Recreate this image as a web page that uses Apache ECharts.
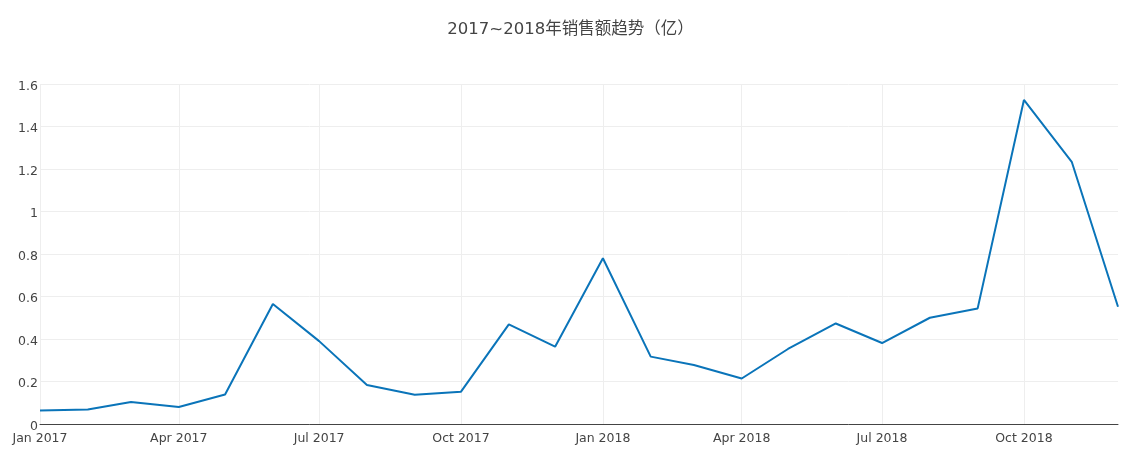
<!DOCTYPE html>
<html><head><meta charset="utf-8">
<script src="https://cdn.jsdelivr.net/npm/echarts@6/dist/echarts.min.js"></script>
<style>html,body{margin:0;padding:0;background:#fff}#c{width:1141px;height:454px}</style>
</head><body><div id="c"></div>
<script>
const months = ['2017-01-01','2017-02-01','2017-03-01','2017-04-01','2017-05-01','2017-06-01','2017-07-01','2017-08-01','2017-09-01','2017-10-01','2017-11-01','2017-12-01',
'2018-01-01','2018-02-01','2018-03-01','2018-04-01','2018-05-01','2018-06-01','2018-07-01','2018-08-01','2018-09-01','2018-10-01','2018-11-01','2018-12-01'];
const sales = [0.064,0.068,0.104,0.080,0.139,0.565,0.390,0.184,0.138,0.152,0.469,0.364,
0.780,0.317,0.278,0.214,0.353,0.473,0.381,0.500,0.544,1.525,1.234,0.552];
const xTicks = ['2017-01-01','2017-04-01','2017-07-01','2017-10-01','2018-01-01','2018-04-01','2018-07-01','2018-10-01'];
const yTicks = [0,0.2,0.4,0.6,0.8,1,1.2,1.4,1.6];
const titleText = '2017~2018年销售额趋势（亿）';
const monNames = ['Jan','Feb','Mar','Apr','May','Jun','Jul','Aug','Sep','Oct','Nov','Dec'];
const DAY = 86400000;
const ts = s => { const [y,m,d] = s.split('-').map(Number); return Date.UTC(y,m-1,d) / DAY; };
const tickVals = xTicks.map(ts);
const chart = echarts.init(document.getElementById('c'), null, {renderer:'canvas'});
const font = '"DejaVu Sans", "Noto Sans CJK SC", sans-serif';
chart.setOption({
  animation:false,
  title:{text:titleText,left:'center',top:16,textStyle:{fontFamily:font,fontSize:16.5,fontWeight:'normal',color:'#444'}},
  grid:{left:40,right:23,top:84,bottom:30,containLabel:false},
  xAxis:{type:'value',min:ts(months[0]),max:ts(months[months.length-1]),
    axisLine:{show:true,lineStyle:{color:'#444',width:1}},
    axisTick:{show:false,customValues:tickVals},
    axisLabel:{customValues:tickVals,color:'#444',fontFamily:font,fontSize:12.5,margin:8,showMinLabel:true,showMaxLabel:true,
      formatter:v=>{const d=new Date(v*DAY);return monNames[d.getUTCMonth()]+' '+d.getUTCFullYear();}},
    splitLine:{show:true,lineStyle:{color:'#eee',width:1}}
  },
  yAxis:{type:'value',min:yTicks[0],max:yTicks[yTicks.length-1],interval:0.2,
    axisLine:{show:false},axisTick:{show:false},
    axisLabel:{color:'#444',fontFamily:font,fontSize:12.5,margin:2,
      formatter:v=>'{a|'+v+'}',
      rich:{a:{color:'#444',fontFamily:font,fontSize:12.5,padding:[5,0,0,0]}}},
    splitLine:{show:true,lineStyle:{color:'#eee',width:1}}
  },
  series:[{type:'line',data:months.map((m,i)=>[ts(m),sales[i]]),showSymbol:false,symbol:'none',
    lineStyle:{color:'#0a74b9',width:2},itemStyle:{color:'#0a74b9'}}]
});
</script></body></html>
